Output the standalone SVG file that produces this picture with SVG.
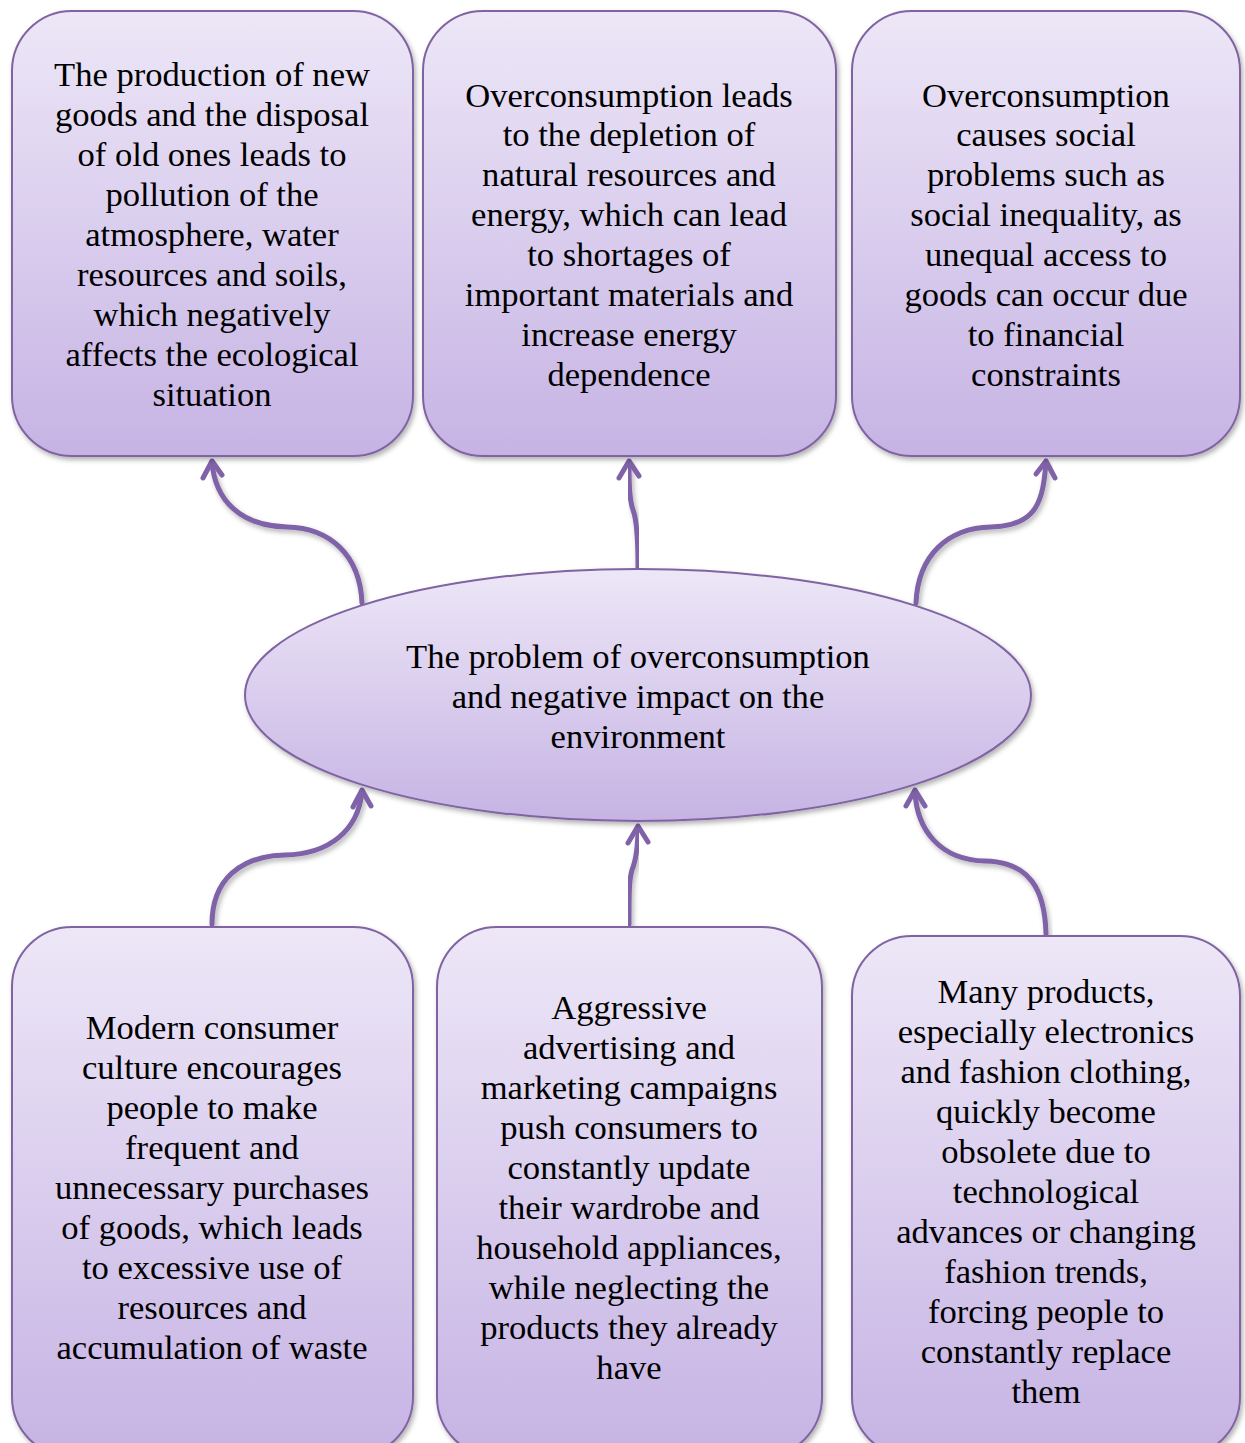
<svg xmlns="http://www.w3.org/2000/svg" width="1245" height="1443" viewBox="0 0 1245 1443">
<defs>
<linearGradient id="g" x1="0" y1="0" x2="0" y2="1">
<stop offset="0" stop-color="#ede7f7"/>
<stop offset="1" stop-color="#c6b3e4"/>
</linearGradient>
<filter id="sh" x="-5%" y="-5%" width="110%" height="110%">
<feDropShadow dx="2" dy="3" stdDeviation="2.5" flood-color="#000" flood-opacity="0.3"/>
</filter>
</defs>
<style>
.box{fill:url(#g);stroke:#8064a2;stroke-width:2;filter:url(#sh)}
.t{font-family:"Liberation Serif","Times New Roman",serif;font-size:34.6px;fill:#000;text-anchor:middle}
.c{fill:none;stroke:#7f62a8;stroke-width:5;stroke-linecap:round;filter:url(#sh)}
.h{fill:none;stroke:#7f62a8;stroke-width:5;stroke-linecap:round;stroke-linejoin:round}
</style>
<g id="connectors">
<path class="c" d="M362,603 C360,555 330,528 287,527 C240,526 215,500 212,462"/>
<path class="c" d="M638,567 C638,540 637,520 633,510 C629,498 629,480 629,462"/>
<path class="c" d="M916,603 C918,555 948,528 991,527 C1038,526 1043,500 1046,462"/>
<path class="c" d="M212,924 C212,880 240,856 285,855 C330,854 358,830 362,792"/>
<path class="c" d="M629,924 C629,895 629,880 632,870 C636,860 638,845 638,827"/>
<path class="c" d="M1046,934 C1045,890 1030,862 985,861 C940,860 917,830 915,792"/>
<polyline class="h" points="203,478 212,461 222,475"/>
<polyline class="h" points="619,478 629,461 639,476"/>
<polyline class="h" points="1036,474 1046,461 1055,478"/>
<polyline class="h" points="353,807 362,790 371,806"/>
<polyline class="h" points="628,843 638,826 648,842"/>
<polyline class="h" points="906,806 915,790 925,806"/>
</g>
<g id="n1"><rect class="box" x="12" y="11" width="401" height="445" rx="60"/>
<text class="t"><tspan x="212" y="86">The production of new</tspan><tspan x="212" y="126">goods and the disposal</tspan><tspan x="212" y="166">of old ones leads to</tspan><tspan x="212" y="206">pollution of the</tspan><tspan x="212" y="246">atmosphere, water</tspan><tspan x="212" y="286">resources and soils,</tspan><tspan x="212" y="326">which negatively</tspan><tspan x="212" y="366">affects the ecological</tspan><tspan x="212" y="406">situation</tspan></text></g>
<g id="n2"><rect class="box" x="423" y="11" width="413" height="445" rx="60"/>
<text class="t"><tspan x="629" y="107">Overconsumption leads</tspan><tspan x="629" y="146">to the depletion of</tspan><tspan x="629" y="186">natural resources and</tspan><tspan x="629" y="226">energy, which can lead</tspan><tspan x="629" y="266">to shortages of</tspan><tspan x="629" y="306">important materials and</tspan><tspan x="629" y="346">increase energy</tspan><tspan x="629" y="386">dependence</tspan></text></g>
<g id="n3"><rect class="box" x="852" y="11" width="388" height="445" rx="60"/>
<text class="t"><tspan x="1046" y="107">Overconsumption</tspan><tspan x="1046" y="146">causes social</tspan><tspan x="1046" y="186">problems such as</tspan><tspan x="1046" y="226">social inequality, as</tspan><tspan x="1046" y="266">unequal access to</tspan><tspan x="1046" y="306">goods can occur due</tspan><tspan x="1046" y="346">to financial</tspan><tspan x="1046" y="386">constraints</tspan></text></g>
<g id="center"><ellipse class="box" cx="638" cy="695" rx="393" ry="126"/>
<text class="t"><tspan x="638" y="668">The problem of overconsumption</tspan><tspan x="638" y="708">and negative impact on the</tspan><tspan x="638" y="748">environment</tspan></text></g>
<g id="n4"><rect class="box" x="12" y="927" width="401" height="530" rx="60"/>
<text class="t"><tspan x="212" y="1039">Modern consumer</tspan><tspan x="212" y="1079">culture encourages</tspan><tspan x="212" y="1119">people to make</tspan><tspan x="212" y="1159">frequent and</tspan><tspan x="212" y="1199">unnecessary purchases</tspan><tspan x="212" y="1239">of goods, which leads</tspan><tspan x="212" y="1279">to excessive use of</tspan><tspan x="212" y="1319">resources and</tspan><tspan x="212" y="1359">accumulation of waste</tspan></text></g>
<g id="n5"><rect class="box" x="437" y="927" width="385" height="530" rx="60"/>
<text class="t"><tspan x="629" y="1019">Aggressive</tspan><tspan x="629" y="1059">advertising and</tspan><tspan x="629" y="1099">marketing campaigns</tspan><tspan x="629" y="1139">push consumers to</tspan><tspan x="629" y="1179">constantly update</tspan><tspan x="629" y="1219">their wardrobe and</tspan><tspan x="629" y="1259">household appliances,</tspan><tspan x="629" y="1299">while neglecting the</tspan><tspan x="629" y="1339">products they already</tspan><tspan x="629" y="1379">have</tspan></text></g>
<g id="n6"><rect class="box" x="852" y="936" width="388" height="521" rx="60"/>
<text class="t"><tspan x="1046" y="1003">Many products,</tspan><tspan x="1046" y="1043">especially electronics</tspan><tspan x="1046" y="1083">and fashion clothing,</tspan><tspan x="1046" y="1123">quickly become</tspan><tspan x="1046" y="1163">obsolete due to</tspan><tspan x="1046" y="1203">technological</tspan><tspan x="1046" y="1243">advances or changing</tspan><tspan x="1046" y="1283">fashion trends,</tspan><tspan x="1046" y="1323">forcing people to</tspan><tspan x="1046" y="1363">constantly replace</tspan><tspan x="1046" y="1403">them</tspan></text></g>
</svg>
